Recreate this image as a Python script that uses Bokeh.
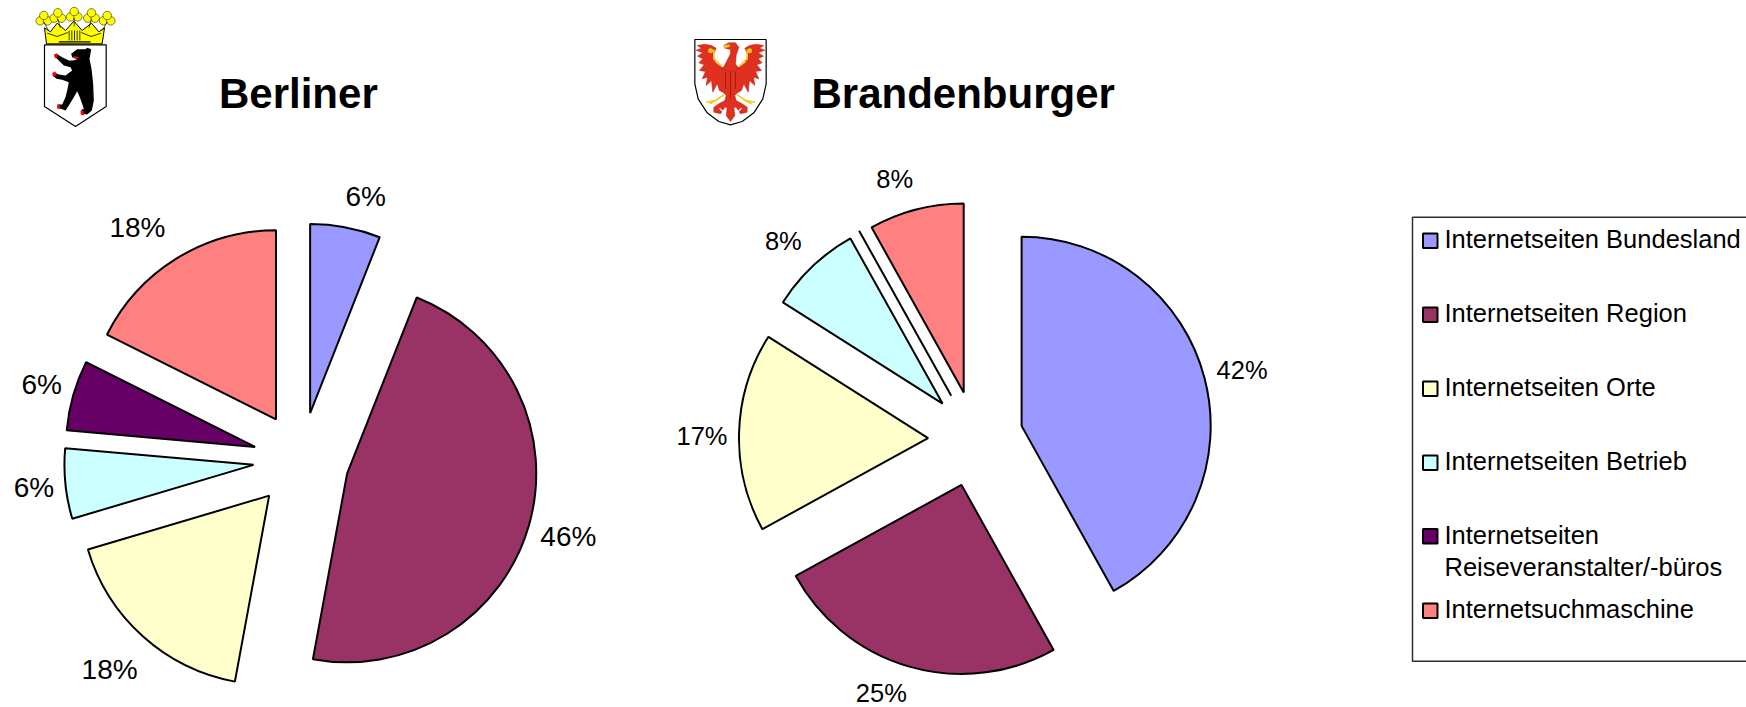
import math
from bokeh.plotting import figure
from bokeh.models import Range1d
from bokeh.core.properties import value
from bokeh.embed import file_html
from bokeh.resources import INLINE

# ---------- data ----------
categories = ["Internetseiten Bundesland", "Internetseiten Region", "Internetseiten Orte",
              "Internetseiten Betrieb", "Internetseiten\nReiseveranstalter/-büros", "Internetsuchmaschine"]
colors = ["#9999FF", "#993366", "#FFFFCC", "#CCFFFF", "#660066", "#FF8080"]
berlin_shares = [6.0, 46.9, 17.5, 6.0, 6.0, 17.6]
berlin_labels = ["6%", "46%", "18%", "6%", "6%", "18%"]
brandenburg_shares = [41.9, 25.1, 17.0, 7.9, 0.0, 8.1]
brandenburg_labels = ["42%", "25%", "17%", "8%", "", "8%"]

# ---------- layout (picture pixels) ----------
W, H = 1746, 707
S = 1746 / 1568
RADIUS = 169.8 * S
berlin_center = (270 * S, 412.7 * S)
berlin_explode = [43 * S] * 6
berlin_label_pos = [(328, 176), (510, 481), (98, 601), (30, 437), (37, 345), (123, 204)]
bb_center = (874 * S, 390 * S)
bb_offsets = [(43, -8), (-11, 45), (-41, 3), (-28, -28), (-20.2, -35), (-9, -38)]
bb_label_pos = [(1115, 332), (791, 621.5), (630, 391), (703, 216), (0, 0), (803, 160)]

p = figure(width=W, height=H, output_backend="svg", toolbar_location=None,
           x_range=Range1d(0, W), y_range=Range1d(0, H),
           min_border=0, outline_line_color=None, background_fill_color="white")
p.axis.visible = False
p.grid.visible = False


def Y(py):
    return 707 - py


def poly(points, ox, oy, k=1 / 3, fill="black", line=None, lw=1.0):
    xs = [ox + a * k for a, b in points]
    ys = [Y(oy + b * k) for a, b in points]
    p.patch(xs, ys, fill_color=fill, line_color=line, line_width=lw)


def pie(shares, offsets):
    cum = 0.0
    for s, col, (dx, dy) in zip(shares, colors, offsets):
        a0, a1 = cum / 100 * 2 * math.pi, (cum + s) / 100 * 2 * math.pi
        cum += s
        if s <= 0:
            # an empty slice still leaves its single radial stroke
            p.segment(x0=[dx], y0=[Y(dy)], x1=[dx + RADIUS * math.sin(a0)], y1=[Y(dy) + RADIUS * math.cos(a0)],
                      line_color="black", line_width=2)
            continue
        p.wedge(x=dx, y=Y(dy), radius=RADIUS,
                start_angle=math.pi / 2 - a1, end_angle=math.pi / 2 - a0,
                fill_color=col, line_color="black", line_width=2)


# Berlin: uniform explosion along each slice's mid-angle
ber_off = []
c = 0.0
for s, e in zip(berlin_shares, berlin_explode):
    mid = (c + s / 2) / 100 * 2 * math.pi
    c += s
    ber_off.append((berlin_center[0] + e * math.sin(mid), berlin_center[1] - e * math.cos(mid)))
pie(berlin_shares, ber_off)
# Brandenburg: individually dragged slices
pie(brandenburg_shares, [(bb_center[0] + dx * S, bb_center[1] + dy * S) for dx, dy in bb_offsets])


def txt(x, py, s, size, style="normal", align="center", color="black"):
    p.text(x=[x], y=[Y(py)], text=[s], text_font=value("Liberation Sans"), text_font_size=size,
           text_font_style=style, text_align=align, text_baseline="middle", text_color=color)


for (x, y), s in zip(berlin_label_pos, berlin_labels):
    txt(x * S, y * S, s, "28px")
for (x, y), s in zip(bb_label_pos, brandenburg_labels):
    if s:
        txt(x * S, y * S, s, "25.5px")

txt(218.5, 92.5, "Berliner", "42px", "bold", "left")
txt(811, 92.5, "Brandenburger", "42px", "bold", "left")

# ---------- legend ----------
BOX_L, BOX_T, BOX_B = 1412, 216.7, 660.7
p.line([W, BOX_L, BOX_L, W], [Y(BOX_T), Y(BOX_T), Y(BOX_B), Y(BOX_B)], line_color="#303030", line_width=1.5)
swatch_tops = [233, 307, 381, 455, 528.5, 603]
text_rows = [[238.5], [312], [386], [460], [534, 566.5], [608]]
for cat, col, top, rows in zip(categories, colors, swatch_tops, text_rows):
    p.quad(left=[1422.5], right=[1437], top=[Y(top)], bottom=[Y(top + 14.5)], fill_color=col,
           line_color="black", line_width=2)
    for line, py in zip(cat.split("\n"), rows):
        txt(1444, py, line, "25.5px", align="left")

# ---------- coat of arms: Berlin (traced in 3x coordinates of a crop at 20,0) ----------
bx, by = 20, 0
poly([(72, 133), (257, 133), (257, 318), (165, 378), (72, 318)], bx, by, fill="white", line="black", lw=1.2)
# crown traced in 3x coordinates of a crop at 30,0
cx, cy = 30, 0
poly([(48, 130), (42, 82), (60, 94), (80, 68), (105, 90), (130, 62), (155, 90), (183, 68), (205, 94),
      (222, 82), (215, 130)], cx, cy, fill="#FFFF00", line="black", lw=1)
for a, b in [(40, 54), (82, 46), (131, 42), (183, 46), (230, 54)]:
    for da, db in [(-11, 7), (11, 7), (0, -9)]:
        p.scatter([cx + (a + da) / 3], [Y(cy + (b + db) / 3)], size=8.5, fill_color="#FFFF00",
                  line_color="black", line_width=0.5)
    p.line([cx + a / 3, cx + (a + (131 - a) * 0.15) / 3], [Y((b + 10) / 3), Y((b + 36) / 3)],
           line_color="black", line_width=0.7)
for a in (116, 124, 132, 140, 148):
    p.line([cx + a / 3, cx + a / 3], [Y(90 / 3), Y(120 / 3)], line_color="black", line_width=0.8)
p.line([cx + 85 / 3, cx + 180 / 3], [Y(124 / 3), Y(124 / 3)], line_color="black", line_width=1.4)
p.line([cx + a / 3 for a in (50, 80, 112)], [Y(b / 3) for b in (98, 108, 96)], line_color="black", line_width=0.8)
p.line([cx + a / 3 for a in (152, 182, 212)], [Y(b / 3) for b in (96, 108, 98)], line_color="black", line_width=0.8)
bear = [(152, 160), (170, 146), (195, 146), (200, 142), (212, 146), (210, 160), (207, 175), (213, 205),
        (218, 250), (220, 300), (214, 330), (200, 342), (183, 340), (183, 328), (190, 325), (178, 290),
        (170, 272), (160, 290), (145, 315), (135, 330), (112, 322), (112, 312), (125, 312), (135, 290),
        (140, 270), (145, 245), (125, 238), (108, 235), (96, 225), (100, 215), (115, 222), (135, 225),
        (155, 210), (150, 200), (130, 195), (115, 180), (102, 168), (108, 160), (125, 170), (145, 180),
        (158, 180), (170, 176), (155, 170)]
poly(bear, bx, by, fill="black")
for claw in ([(100, 162), (110, 158), (112, 168), (104, 174)], [(95, 218), (104, 212), (108, 222), (100, 230)],
             [(110, 312), (118, 312), (118, 326), (110, 324)], [(180, 330), (190, 332), (190, 345), (181, 343)],
             [(158, 166), (176, 170), (172, 175), (162, 173)]):
    poly(claw, bx, by, fill="#FF0000")

# ---------- coat of arms: Brandenburg (traced in 3x coordinates of a crop at 685,35) ----------
ex, ey = 685, 35
shield = [(28, 12), (242, 12), (242, 145), (232, 190), (205, 232), (170, 258), (135, 268), (100, 258),
          (65, 232), (38, 190), (28, 145)]
poly(shield, ex, ey, fill="white", line="black", lw=1.2)
RED, DARK, GOLD = "#E03020", "#B02010", "#F5C518"
wing_l = [(135, 95), (110, 95), (90, 82), (82, 60), (92, 38), (78, 30), (58, 26), (35, 30), (48, 38), (32, 44),
          (52, 52), (36, 62), (52, 70), (40, 82), (56, 88), (42, 105), (60, 108), (50, 130), (66, 125),
          (62, 150), (78, 135), (82, 170), (95, 145), (102, 165), (112, 170), (122, 180), (118, 195),
          (100, 205), (85, 215), (85, 230), (105, 235), (118, 215), (125, 215), (122, 240), (135, 258)]
mirror = [(270 - a, b) for a, b in reversed(wing_l)]
poly(wing_l + mirror, ex, ey, fill=RED, line=DARK, lw=0.5)
head = [(115, 30), (130, 22), (150, 22), (160, 35), (152, 60), (150, 85), (160, 100), (135, 110), (112, 100),
        (122, 80), (135, 55), (135, 42), (118, 38)]
poly(head, ex, ey, fill=RED, line=DARK, lw=0.5)
poly([(114, 30), (132, 26), (134, 34), (118, 38)], ex, ey, fill=GOLD)
for pts in ([(85, 42), (85, 70), (108, 92)], [(185, 42), (185, 70), (162, 92)],
            [(115, 178), (90, 195), (62, 200)], [(155, 178), (180, 195), (208, 200)],
            [(90, 195), (72, 205)], [(180, 195), (198, 205)]):
    p.line([ex + a / 3 for a, b in pts], [Y(ey + b / 3) for a, b in pts], line_color=GOLD, line_width=1.6)
for a in (75, 192):
    p.scatter([ex + a / 3], [Y(ey + 46 / 3)], size=5, fill_color=GOLD, line_color=None)
for a, b0, b1 in [(120, 110, 160), (135, 110, 190), (150, 110, 160)]:
    p.line([ex + a / 3, ex + a / 3], [Y(ey + b0 / 3), Y(ey + b1 / 3)], line_color="#801808", line_width=0.7)
for pts in ([(102, 218), (112, 228)], [(168, 218), (158, 228)]):
    p.line([ex + a / 3 for a, b in pts], [Y(ey + b / 3) for a, b in pts], line_color="white", line_width=1.2)

open("out.html", "w").write(file_html(p, INLINE))
